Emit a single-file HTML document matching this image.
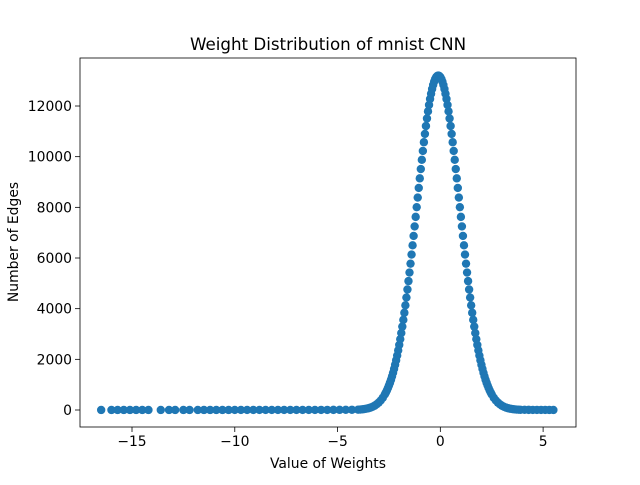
<!DOCTYPE html>
<html><head><meta charset="utf-8"><style>
body{margin:0;background:#fff;}
svg text{font-family:"DejaVu Sans","Liberation Sans",sans-serif;fill:#000;}
</style></head><body>
<svg id="chart" width="640" height="480" xmlns="http://www.w3.org/2000/svg">
<rect width="640" height="480" fill="#fff"/>
<text x="328" y="50" font-size="16.7" text-anchor="middle">Weight Distribution of mnist CNN</text>
<text x="328" y="468" font-size="13.9" text-anchor="middle">Value of Weights</text>
<text transform="translate(18,242) rotate(-90)" font-size="13.9" text-anchor="middle">Number of Edges</text>
<g id="marks"></g>
<g id="axes"></g>
</svg>
<script>
const xTicks=[-15,-10,-5,0,5];
const yTicks=[0,2000,4000,6000,8000,10000,12000];
const coreX=[-4.0,-3.9,-3.8,-3.7,-3.6,-3.5,-3.4,-3.3,-3.2,-3.1,-3.0,-2.9,-2.8,-2.7,-2.6,-2.5,-2.4,-2.3,-2.2,-2.1,-2.0,-1.9,-1.8,-1.7,-1.6,-1.5,-1.4,-1.3,-1.2,-1.1,-1.0,-0.9,-0.8,-0.7,-0.6,-0.5,-0.4,-0.3,-0.2,-0.1,0.0,0.1,0.2,0.3,0.4,0.5,0.6,0.7,0.8,0.9,1.0,1.1,1.2,1.3,1.4,1.5,1.6,1.7,1.8,1.9,2.0,2.1,2.2,2.3,2.4,2.5,2.6,2.7,2.8,2.9,3.0,3.1,3.2,3.3,3.4,3.5,3.6,3.7,3.8];
const coreY=[13,19,26,37,51,69,94,126,169,224,292,378,483,615,776,969,1197,1469,1786,2150,2569,3037,3559,4133,4757,5426,6135,6871,7624,8385,9144,9875,10570,11210,11790,12276,12672,12963,13140,13200,13140,12963,12672,12276,11790,11210,10570,9875,9144,8385,7624,6871,6135,5426,4757,4133,3559,3037,2569,2150,1786,1469,1197,969,776,615,483,378,292,224,169,126,94,69,51,37,26,19,13];
const midX=[-2.65,-2.55,-2.45,-2.35,-2.25,-2.15,-2.05,-1.95,-1.85,-1.75,-1.65,-1.55,-1.45,-1.35,-1.25,-1.15,-1.05,-0.95,-0.85,-0.75,-0.65,-0.55,-0.45,-0.35,-0.25,-0.15,-0.05,0.05,0.15,0.25,0.35,0.45,0.55,0.65,0.75,0.85,0.95,1.05,1.15,1.25,1.35,1.45,1.55,1.65,1.75,1.85,1.95,2.05,2.15,2.25,2.35,2.45];
const midY=[690,866,1077,1329,1624,1963,2353,2796,3292,3839,4438,5088,5776,6500,7247,8006,8765,9511,10226,10898,11508,12042,12486,12831,13066,13185,13185,13066,12831,12486,12042,11508,10898,10226,9511,8765,8006,7247,6500,5776,5088,4438,3839,3292,2796,2353,1963,1624,1329,1077,866,690];
const tailX=[-16.5,-16,-15.7,-15.4,-15.1,-14.8,-14.5,-14.2,-13.6,-13.2,-12.9,-12.5,-12.2,-11.8,-11.5,-11.2,-10.9,-10.6,-10.3,-10,-9.7,-9.4,-9.1,-8.8,-8.5,-8.2,-7.9,-7.6,-7.3,-7,-6.7,-6.4,-6.1,-5.8,-5.5,-5.2,-4.9,-4.6,-4.3,3.9,4.1,4.3,4.5,4.7,4.9,5.1,5.3,5.5];
const tailY=[1,1,1,1,1,1,1,1,1,1,1,1,1,1,1,1,1,1,1,2,2,2,2,2,2,2,2,2,3,3,3,3,3,4,4,5,6,7,9,9,7,5,4,3,2,2,1,1];
const L=80,R=576,T=58,B=427;
const xMin=-17.53,xMax=6.6,yMin=-671,yMax=13895;
const sx=v=>L+(v-xMin)/(xMax-xMin)*(R-L);
const sy=v=>B-(v-yMin)/(yMax-yMin)*(B-T);
const NS="http://www.w3.org/2000/svg";
const marks=document.getElementById('marks');
const axes=document.getElementById('axes');
function dot(x,y){
  const c=document.createElementNS(NS,'circle');
  c.setAttribute('cx',sx(x));c.setAttribute('cy',sy(y));c.setAttribute('r',4.2);c.setAttribute('fill','#1f77b4');
  
  
  marks.appendChild(c);
}
tailX.forEach((x,i)=>dot(x,tailY[i]));
coreX.forEach((x,i)=>dot(x,coreY[i]));
midX.forEach((x,i)=>dot(x,midY[i]));
const frame=document.createElementNS(NS,'rect');
frame.setAttribute('x',L);frame.setAttribute('y',T);frame.setAttribute('width',R-L);frame.setAttribute('height',B-T);
frame.setAttribute('fill','none');frame.setAttribute('stroke','#000');frame.setAttribute('stroke-width','0.8');


axes.appendChild(frame);
xTicks.forEach(v=>{
  const x=sx(v);
  const l=document.createElementNS(NS,'line');
  l.setAttribute('x1',x);l.setAttribute('x2',x);l.setAttribute('y1',B);l.setAttribute('y2',B+5);l.setAttribute('stroke','#000');l.setAttribute('stroke-width','0.8');
  
  
  axes.appendChild(l);
  const t=document.createElementNS(NS,'text');
  t.setAttribute('x',x);t.setAttribute('y',B+19);t.setAttribute('font-size','13.9');t.setAttribute('text-anchor','middle');
  t.textContent=(v<0?'\u2212'+(-v):String(v));
  
  
  axes.appendChild(t);
});
yTicks.forEach(v=>{
  const y=sy(v);
  const l=document.createElementNS(NS,'line');
  l.setAttribute('x1',L-5);l.setAttribute('x2',L);l.setAttribute('y1',y);l.setAttribute('y2',y);l.setAttribute('stroke','#000');l.setAttribute('stroke-width','0.8');
  
  
  axes.appendChild(l);
  const t=document.createElementNS(NS,'text');
  t.setAttribute('x',L-8);t.setAttribute('y',y+5);t.setAttribute('font-size','13.9');t.setAttribute('text-anchor','end');
  t.textContent=String(v);
  
  
  axes.appendChild(t);
});
</script>
</body></html>
